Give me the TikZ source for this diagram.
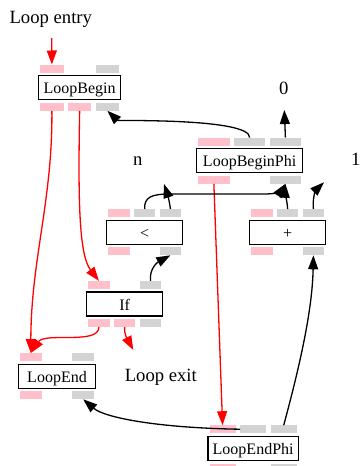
\documentclass[tikz,border=0pt]{standalone}
\usepackage{fontspec}
\setmainfont{Liberation Serif}
\usetikzlibrary{calc,positioning,arrows.meta}
\definecolor{portpink}{RGB}{255,192,203}
\definecolor{portgray}{RGB}{211,211,211}
\tikzset{ op/.style = { rectangle % operation box
                      , draw
                      , line width = 1.3pt
                      , minimum height = 24pt
                      , inner sep = 0pt
                      , text height = 14.2pt
                      , text depth = 2pt
                      , font = \rmfamily\fontsize{16}{19}\selectfont
                      }
        , port/.style = { rectangle % input or output slot
                        , inner sep = 0pt
                        , outer sep = 0pt
                        , minimum height = 8pt
                        }
        , lbl/.style = { anchor = base % free label
                       , inner sep = 0pt
                       , font = \rmfamily\fontsize{18.67}{22}\selectfont
                       }
        , dflow/.style = { line width = 1.3pt % data edge
                         , -{Triangle[length=14pt, width=10pt]}
                         }
        , cflow/.style = { dflow % control edge
                         , red
                         }
        }
\def\op(#1,#2,#3,#4)#5{% operation: name, left, top, width
  \expandafter\xdef\csname opw#1\endcsname{#4}
  \node[op, anchor = north west, minimum width = #4] (#1) at (#2,#3) {#5};
}
\def\pin(#1,#2)#3{% input slot above the box
  \pgfmathsetmacro{\pw}{\csname opw#1\endcsname/3-4}
  \coordinate (#1-t#2) at ($(#1.north west)!{(#2-0.5)/3}!(#1.north east)$);
  \node[port, fill = #3, minimum width = \pw, above = 2.5pt of #1-t#2] (#1-in#2) {};
}
\def\pout(#1,#2)#3{% output slot below the box
  \pgfmathsetmacro{\pw}{\csname opw#1\endcsname/3-4}
  \coordinate (#1-b#2) at ($(#1.south west)!{(#2-0.5)/3}!(#1.south east)$);
  \node[port, fill = #3, minimum width = \pw, below = 2.5pt of #1-b#2] (#1-out#2) {};
}

\begin{document}
\begin{tikzpicture}[x=1pt, y=-1pt]
    \useasboundingbox (0,0) rectangle (359,466);

    \op(lb,38,75,82){LoopBegin}
    \op(lbp,196,148,106){LoopBeginPhi}
    \op(lt,106,219.5,76){<}
    \op(add,249,219.5,76){+}
    \op(if,86,291.3,76){If}
    \op(le,17.7,363.5,77.3){LoopEnd}
    \op(lep,207.3,435.7,90.4){LoopEndPhi}

    \foreach \k/\c in {1/portpink,3/portgray} {\pin(lb,\k){\c}}
    \foreach \k/\c in {1/portpink,2/portpink,3/portgray} {\pout(lb,\k){\c}}
    \foreach \k/\c in {1/portpink,2/portgray,3/portgray} {\pin(lbp,\k){\c}}
    \foreach \k/\c in {1/portpink,3/portgray} {\pout(lbp,\k){\c}}
    \foreach \k/\c in {1/portpink,2/portgray,3/portgray} {\pin(lt,\k){\c}}
    \foreach \k/\c in {1/portpink,3/portgray} {\pout(lt,\k){\c}}
    \foreach \k/\c in {1/portpink,2/portgray,3/portgray} {\pin(add,\k){\c}}
    \foreach \k/\c in {1/portpink,3/portgray} {\pout(add,\k){\c}}
    \foreach \k/\c in {1/portpink,3/portgray} {\pin(if,\k){\c}}
    \foreach \k/\c in {1/portpink,2/portpink,3/portgray} {\pout(if,\k){\c}}
    \foreach \k/\c in {1/portpink,3/portgray} {\pin(le,\k){\c}}
    \foreach \k/\c in {1/portpink,3/portgray} {\pout(le,\k){\c}}
    \foreach \k/\c in {1/portpink,2/portgray,3/portgray} {\pin(lep,\k){\c}}
    \foreach \k/\c in {1/portpink,3/portgray} {\pout(lep,\k){\c}}

    \node[lbl] (entry) at (50.8,23.3) {Loop entry};
    \node[lbl] (zero) at (283.7,94) {0};
    \node[lbl] (n) at (137.7,165.7) {n};
    \node[lbl] (one) at (355.7,165) {1};
    \node[lbl] (exit) at (160.8,381.7) {Loop exit};
    \coordinate (entry-out) at (51.7,38);
    \coordinate (zero-in) at (284.3,110);
    \coordinate (n-in) at (164,184);
    \coordinate (one-in) at (324,182.3);
    \coordinate (exit-in) at (133.3,350);

    % control flow
    \draw[cflow] (entry-out) -- (lb-in1.north);
    \draw[cflow] (lb-out1.south) .. controls (52.7,200) and (31,260) .. (le-in1.north);
    \draw[cflow] (lb-out2.south) .. controls (78,200) and (79,255) .. (if-in1.north);
    \draw[cflow] (if-out1.south) .. controls (99,345) and (45,332) .. (le-in1.north);
    \draw[cflow] (if-out2.south) .. controls (124,335) and (128,340) .. (exit-in);
    \draw[cflow] (lbp-out1.south) -- (lep-in1.north);

    % data flow
    \draw[dflow] (lbp-in2.north) .. controls (250,118) and (118,121) .. (lb-out3.south);
    \draw[dflow] (lbp-in3.north) -- (zero-in);
    \draw[dflow] (lt-in2.north) .. controls (144,197) and (152,194) .. (170,194)
                 -- (265,194) .. controls (273,194) and (280,192) .. (lbp-out3.south);
    \draw[dflow] (lt-in3.north) .. controls (169.3,200) and (167,193) .. (n-in);
    \draw[dflow] (add-in2.north) .. controls (287,200) and (285,192) .. (lbp-out3.south);
    \draw[dflow] (add-in3.north) .. controls (312.3,198) and (316,190) .. (one-in);
    \draw[dflow] (if-in3.north) .. controls (149.3,268) and (158,262) .. (lt-out3.south);
    \draw[dflow] (lep-in2.west) .. controls (160,428) and (105,418) .. (le-out3.south);
    \draw[dflow] (lep-in3.north) .. controls (300,365) and (312.3,310) .. (add-out3.south);
\end{tikzpicture}
\end{document}
